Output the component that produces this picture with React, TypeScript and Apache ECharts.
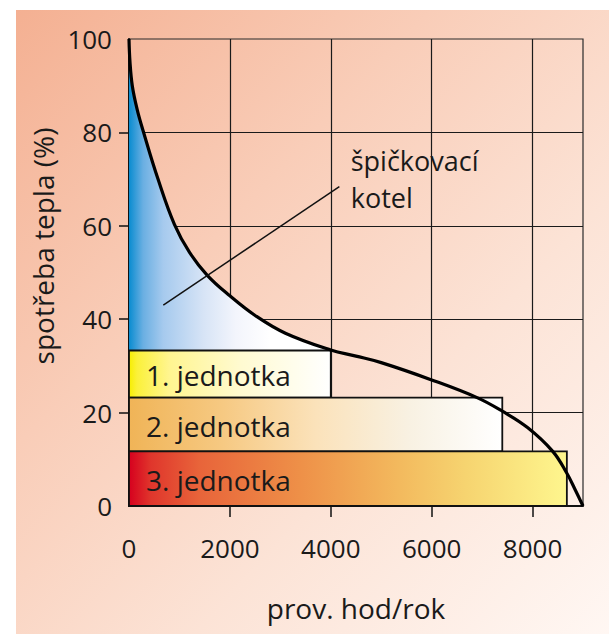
import { useEffect, useRef } from "react";
import * as echarts from "echarts";

// ---- data ----
const xTickValues = [0, 2000, 4000, 6000, 8000];
const xInnerTicks = [2000, 4000, 6000, 8000];
const yInnerTicks = [20, 40, 60, 80];

// load duration curve: hours of operation vs. heat demand (%)
const curveHours = [0, 20, 65, 160, 284, 575, 900, 1200, 1552, 2000, 2500, 3100, 4000, 4500, 5000, 6000, 6900, 7400, 7900, 8400, 8680, 8840, 9000];
const curveLoad = [100, 95.0, 90.0, 85.0, 80.2, 70.0, 60.3, 54.3, 49.4, 45.0, 40.8, 37.0, 33.4, 32.1, 30.7, 27.0, 23.2, 20.3, 16.8, 11.7, 7.0, 3.6, 0];

// peak boiler fill (part of curve above unit 1)
const peakFillEnd = 4000;
const peakBase = 33.3;

// heat units
const unitNames = ["1. jednotka", "2. jednotka", "3. jednotka"];
const unitHours = [4000, 7400, 8680];
const unitLow = [23.2, 11.7, 0];
const unitHigh = [33.3, 23.2, 11.7];

// annotation
const peakLabel = "špičkovací\nkotel";
const leaderFrom = [680, 43.0];
const leaderTo = [4170, 68.4];
const peakLabelAt = [4395, 70.0];

const xName = "prov. hod/rok";
const yName = "spotřeba tepla (%)";

// ---- styles ----
const FONT = '"Open Sans", "Noto Sans", sans-serif';
const TXT = "#1a1a1a";
const unitStops = [
  [
    { offset: 0, color: "#F7EE00" },
    { offset: 0.04, color: "#FBF13A" },
    { offset: 0.2, color: "#FFF590" },
    { offset: 0.55, color: "#FFFAD0" },
    { offset: 1, color: "#FFFFFF" },
  ],
  [
    { offset: 0, color: "#F0B457" },
    { offset: 0.25, color: "#F6C982" },
    { offset: 0.5, color: "#FBE2BA" },
    { offset: 0.75, color: "#F8F1E2" },
    { offset: 1, color: "#FFFFFF" },
  ],
  [
    { offset: 0, color: "#D6001E" },
    { offset: 0.05, color: "#E0362C" },
    { offset: 0.16, color: "#E8643A" },
    { offset: 0.39, color: "#EE9048" },
    { offset: 0.62, color: "#F3BA5E" },
    { offset: 0.77, color: "#F6D470" },
    { offset: 1, color: "#FEF68E" },
  ],
];
const blueStops = [
  { offset: 0, color: "#0A8CD0" },
  { offset: 0.07, color: "#6AAFE2" },
  { offset: 0.17, color: "#A6CAEE" },
  { offset: 0.37, color: "#D7E4F6" },
  { offset: 0.53, color: "#F3F5FC" },
  { offset: 0.7, color: "#FFFFFF" },
  { offset: 1, color: "#FFFFFF" },
];

export default function App() {
  const ref = useRef<HTMLDivElement>(null);

  useEffect(() => {
    if (!ref.current) return;
    const chart = echarts.init(ref.current, null, { renderer: "svg" });

    const curve = curveHours.map((h, i) => [h, curveLoad[i]]);
    const fill = curve.filter((p) => p[0] <= peakFillEnd);
    const units = unitHours.map((h, i) => [h, unitLow[i], unitHigh[i]]);

    const option: any = {
      animation: false,
      backgroundColor: "transparent",
      grid: {
        left: 129,
        right: 26,
        top: 39,
        bottom: 128,
        show: true,
        borderColor: "#2a2a2a",
        borderWidth: 1.2,
        backgroundColor: "transparent",
      },
      xAxis: {
        type: "value",
        min: 0,
        max: 9000,
        interval: 2000,
        axisLine: { show: true, lineStyle: { color: "#111", width: 2 } },
        axisTick: { show: true, customValues: xInnerTicks, length: 11, lineStyle: { color: "#111", width: 1.5 } },
        axisLabel: {
          customValues: xTickValues,
          formatter: (v: number) => (v > 8000 ? "" : String(v)),
          margin: 29,
          fontSize: 26,
          fontFamily: FONT,
          color: TXT,
        },
        splitLine: { show: true, lineStyle: { color: "#1a1a1a", width: 1.2 } },
        name: xName,
        nameLocation: "middle",
        nameGap: 88,
        nameTextStyle: { fontSize: 28, fontFamily: FONT, color: TXT },
      },
      yAxis: {
        type: "value",
        min: 0,
        max: 100,
        interval: 20,
        axisLine: { show: true, lineStyle: { color: "#111", width: 2 } },
        axisTick: { show: true, customValues: yInnerTicks, length: 10, lineStyle: { color: "#111", width: 1.5 } },
        axisLabel: {
          formatter: (v: number) => String(v),
          margin: 17,
          fontSize: 26,
          fontFamily: FONT,
          color: TXT,
        },
        splitLine: { show: true, lineStyle: { color: "#1a1a1a", width: 1.2 } },
      },
      graphic: [
        {
          type: "text",
          x: 43,
          y: 246,
          rotation: Math.PI / 2,
          style: {
            text: yName,
            fill: TXT,
            font: `28px ${FONT}`,
            align: "center",
            verticalAlign: "middle",
          },
        },
      ],
      series: [
        {
          name: "špičkovací kotel",
          type: "line",
          data: fill,
          smooth: 0.4,
          showSymbol: false,
          lineStyle: { width: 0 },
          areaStyle: {
            opacity: 1,
            origin: peakBase,
            color: new echarts.graphic.LinearGradient(0, 0, 1, 0, blueStops),
          },
          z: 1,
          silent: true,
        },
        {
          name: "jednotky",
          type: "custom",
          data: units,
          z: 2,
          renderItem: (params: any, api: any) => {
            const i = params.dataIndex;
            const tl = api.coord([0, api.value(2)]);
            const br = api.coord([api.value(0), api.value(1)]);
            return {
              type: "group",
              children: [
                {
                  type: "rect",
                  shape: { x: tl[0], y: tl[1], width: br[0] - tl[0], height: br[1] - tl[1] },
                  style: {
                    fill: { type: "linear", x: 0, y: 0, x2: 1, y2: 0, colorStops: unitStops[i] },
                    stroke: "#111",
                    lineWidth: 1.8,
                  },
                },
                {
                  type: "text",
                  x: tl[0] + 17,
                  y: (tl[1] + br[1]) / 2 + 1,
                  style: {
                    text: unitNames[i],
                    fill: TXT,
                    font: `28px ${FONT}`,
                    align: "left",
                    verticalAlign: "middle",
                  },
                },
              ],
            };
          },
        },
        {
          name: "křivka",
          type: "line",
          data: curve,
          smooth: 0.4,
          showSymbol: false,
          lineStyle: { color: "#000", width: 3.2 },
          z: 3,
        },
        {
          name: "popis",
          type: "custom",
          data: [[leaderFrom[0], leaderFrom[1], leaderTo[0], leaderTo[1], peakLabelAt[0], peakLabelAt[1]]],
          z: 4,
          clip: false,
          renderItem: (_params: any, api: any) => {
            const a = api.coord([api.value(0), api.value(1)]);
            const b = api.coord([api.value(2), api.value(3)]);
            const t = api.coord([api.value(4), api.value(5)]);
            return {
              type: "group",
              children: [
                {
                  type: "line",
                  shape: { x1: a[0], y1: a[1], x2: b[0], y2: b[1] },
                  style: { stroke: "#111", lineWidth: 1.5 },
                },
                {
                  type: "text",
                  x: t[0],
                  y: t[1],
                  style: {
                    text: peakLabel,
                    fill: TXT,
                    font: `27px ${FONT}`,
                    lineHeight: 37,
                    align: "left",
                    verticalAlign: "middle",
                  },
                },
              ],
            };
          },
        },
      ],
    };

    chart.setOption(option);
    return () => chart.dispose();
  }, []);

  return (
    <div style={{ position: "absolute", left: 0, top: 0, width: 609, height: 634, background: "#ffffff", overflow: "hidden" }}>
      <div
        style={{
          position: "absolute",
          left: 16,
          top: 10,
          right: 0,
          bottom: 0,
          background: "linear-gradient(to bottom right, #F4B092 0%, #F9CDB8 35%, #FCE3D6 65%, #FFF7F3 100%)",
        }}
      />
      <div ref={ref} style={{ position: "absolute", left: 0, top: 0, width: 609, height: 634 }} />
    </div>
  );
}
